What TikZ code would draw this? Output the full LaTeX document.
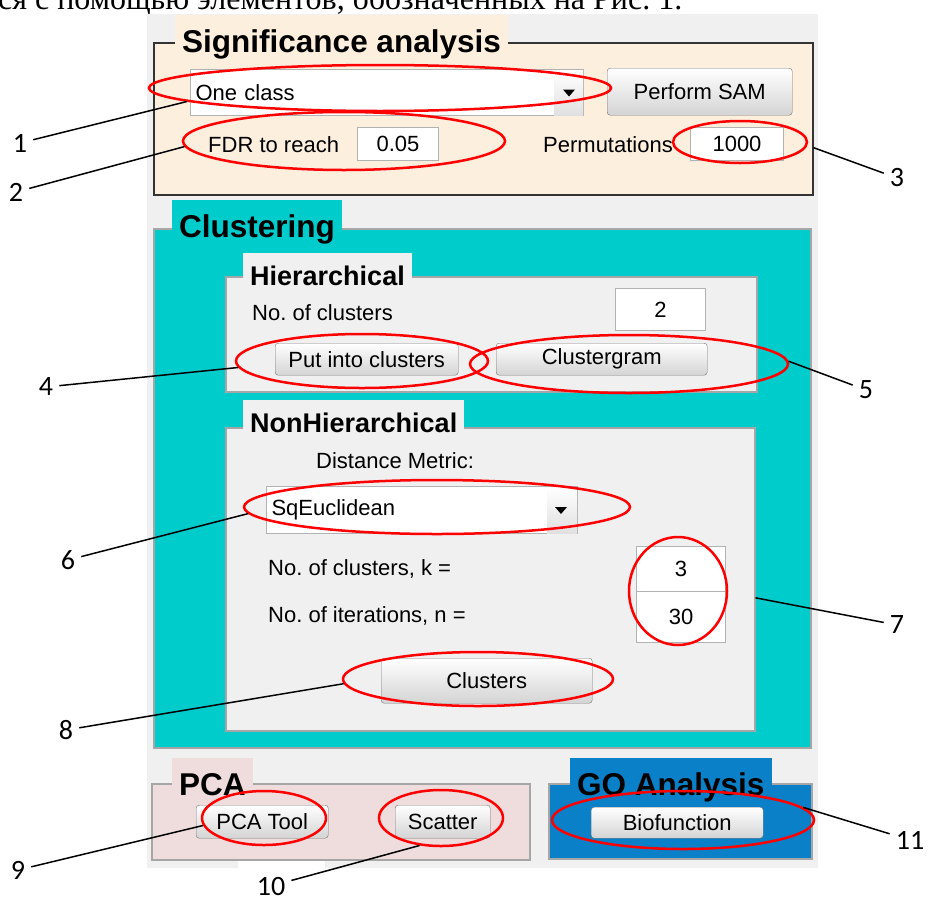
\documentclass[tikz,border=0pt]{standalone}
\usepackage{fontspec}
\setmainfont{Liberation Sans}
\newfontfamily\numfont{Carlito}
\newfontfamily\rufont{Liberation Serif}
\usetikzlibrary{shapes.geometric}
\definecolor{panelgray}{HTML}{F0F0F0}
\definecolor{sampeach}{HTML}{FDEFDD}
\definecolor{clusterteal}{HTML}{00CCCC}
\definecolor{pcapink}{HTML}{EFDCDC}
\definecolor{goblue}{HTML}{0A80C8}
\newcommand\uisize{\fontsize{22}{26}\selectfont}
\newcommand\bigsize{\bfseries\fontsize{31.5}{36}\selectfont}
\newcommand\subsize{\bfseries\fontsize{27}{31}\selectfont}
\frenchspacing

\begin{document}
\begin{tikzpicture}[x=1pt,y=-1pt,
    panel/.style={anchor=north west,inner sep=0pt,line width=1.5pt},
    title/.style={anchor=base west,inner xsep=7pt,inner ysep=0pt,text height=37pt,text depth=8pt,font=\bigsize},
    subtitle/.style={title,text height=32pt,font=\subsize},
    button/.style={anchor=north west,inner sep=0pt,draw=black!55,rounded corners=3pt,top color=white,bottom color=black!17,font=\uisize},
    field/.style={anchor=north west,inner sep=0pt,draw=black!30,line width=1pt,fill=white,font=\uisize},
    lbl/.style={anchor=base west,inner sep=0pt,font=\uisize},
    ring/.style={ellipse,draw=red,line width=2.5pt,inner sep=0pt},
    num/.style={inner sep=6pt,font=\numfont\fontsize{28}{30}\selectfont}]
  \useasboundingbox (0,0) rectangle (931,900);
  \clip (0,0) rectangle (931,900);

  \node[anchor=base west,inner sep=0pt,font=\rufont\fontsize{32}{34}\selectfont] (intro) at (-2,9)
    {ся с помощью элементов, обозначенных на Рис. 1.};

  % window background
  \fill[panelgray] (147,14) -- (818,14) -- (818,868) -- (325,868) -- (325,860)
    -- (238,860) -- (238,868) -- (147,868) -- cycle;

  % significance analysis
  \node[panel,fill=sampeach,draw=black!80,minimum width=659pt,minimum height=152pt] (sig) at (153,42) {};
  \node[title,fill=sampeach] (sigtitle) at (175,52) {Significance analysis};
  \node[field,minimum height=46pt,text width=383pt,inner xsep=5pt,align=left] (ddclass) at (190,69) {One class};
  \shade[top color=white,bottom color=black!12] ([xshift=-30pt,yshift=-1pt]ddclass.north east) rectangle ([shift={(-1pt,1pt)}]ddclass.south east);
  \fill ([xshift=-21pt,yshift=3pt]ddclass.east) -- ++(12,0) -- ++(-6,7) -- cycle;
  \node[button,minimum width=185pt,minimum height=47pt] (sam) at (607,68) {Perform SAM};
  \node[lbl] (fdrtext) at (208,152) {FDR to reach};
  \node[field,minimum width=81pt,minimum height=33pt] (fdr) at (357,127) {0.05};
  \node[lbl] (permtext) at (543,152) {Permutations};
  \node[field,minimum width=93pt,minimum height=33pt] (perm) at (690,127) {1000};

  % clustering
  \node[panel,fill=clusterteal,draw=black!35,minimum width=657pt,minimum height=519pt] (clus) at (153,228) {};
  \node[title,fill=clusterteal] (clustitle) at (172,237) {Clustering};

  \node[panel,fill=panelgray,draw=black!35,minimum width=531pt,minimum height=115pt] (hier) at (225,276) {};
  \node[subtitle,fill=panelgray] (hiertitle) at (243,285) {Hierarchical};
  \node[lbl] (nclustext) at (252,320) {No. of clusters};
  \node[field,minimum width=90pt,minimum height=42pt] (nclus) at (615,288) {2};
  \node[button,minimum width=183pt,minimum height=32pt] (putinto) at (275,343) {Put into clusters};
  \node[button,minimum width=211pt,minimum height=32pt] (clgram) at (496,343) {Clustergram};

  \node[panel,fill=panelgray,draw=black!35,minimum width=529pt,minimum height=303pt] (nh) at (225,427) {};
  \node[subtitle,fill=panelgray] (nhtitle) at (243,432) {NonHierarchical};
  \node[lbl] (metrictext) at (316,468) {Distance Metric:};
  \node[field,minimum height=47pt,text width=301pt,inner xsep=5pt,align=left] (ddmetric) at (266,486) {SqEuclidean};
  \shade[top color=white,bottom color=black!12] ([xshift=-31pt,yshift=-1pt]ddmetric.north east) rectangle ([shift={(-1pt,1pt)}]ddmetric.south east);
  \fill ([xshift=-23pt,yshift=3pt]ddmetric.east) -- ++(12,0) -- ++(-6,7) -- cycle;
  \node[lbl] (ktext) at (268,575) {No. of clusters, k =};
  \node[lbl] (ntext) at (268,622) {No. of iterations, n =};
  \node[field,minimum width=89pt,minimum height=45pt] (kval) at (636,546) {3};
  \node[field,minimum width=89pt,minimum height=51pt] (nval) at (636,591) {30};
  \node[button,minimum width=211pt,minimum height=45pt] (clbtn) at (381,658) {Clusters};

  % pca and go
  \node[panel,fill=pcapink,draw=black!35,minimum width=378pt,minimum height=76pt] (pca) at (151,783) {};
  \node[title,fill=pcapink] (pcatitle) at (172,795) {PCA};
  \node[button,minimum width=132pt,minimum height=33pt] (pcatool) at (196,805) {PCA Tool};
  \node[button,minimum width=95pt,minimum height=33pt] (scatter) at (395,805) {Scatter};

  \node[panel,fill=goblue,draw=black!35,minimum width=263pt,minimum height=75pt] (go) at (548,783) {};
  \node[title,fill=goblue] (gotitle) at (570,795) {GO Analysis};
  \node[button,minimum width=172pt,minimum height=31pt] (biofn) at (591,807) {Biofunction};

  % red marks
  \node[ring,minimum width=462pt,minimum height=46pt] (e1) at (380,88) {};
  \node[ring,minimum width=322pt,minimum height=58pt] (e2) at (344,141) {};
  \node[ring,minimum width=134pt,minimum height=42pt] (e3) at (740,142) {};
  \node[ring,minimum width=252pt,minimum height=54pt] (e4) at (362,361) {};
  \node[ring,minimum width=318pt,minimum height=58pt] (e5) at (629,364) {};
  \node[ring,minimum width=386pt,minimum height=54pt] (e6) at (437,507) {};
  \node[ring,minimum width=98pt,minimum height=108pt] (e7) at (678,591) {};
  \node[ring,minimum width=270pt,minimum height=54pt] (e8) at (478,679) {};
  \node[ring,minimum width=124pt,minimum height=54pt] (e9) at (264,818) {};
  \node[ring,minimum width=124pt,minimum height=56pt] (e10) at (441,818) {};
  \node[ring,minimum width=262pt,minimum height=58pt] (e11) at (683,820) {};

  % numbers
  \node[num] (n1) at (20,143) {1};
  \node[num] (n2) at (16,192) {2};
  \node[num] (n3) at (897,178) {3};
  \node[num] (n4) at (46,387) {4};
  \node[num] (n5) at (866,390) {5};
  \node[num] (n6) at (68,560) {6};
  \node[num] (n7) at (897,625) {7};
  \node[num] (n8) at (66,730) {8};
  \node[num] (n9) at (18,870) {9};
  \node[num] (n10) at (271,886) {10};
  \node[num] (n11) at (910,840) {11};

  \path [every edge/.style={draw,line width=1.5pt}]
    (n1) edge (e1.184)
    (n2) edge (e2.182)
    (n3) edge (sig.-5)
    (n4) edge (e4.183)
    (n5) edge (e5.1)
    (n6) edge (e6.182)
    (n7) edge (nh.-4)
    (n8) edge (e8.182)
    (n9) edge (e9.187)
    (n10) edge (e10.232)
    (n11) edge (e11.6);

\end{tikzpicture}
\end{document}
